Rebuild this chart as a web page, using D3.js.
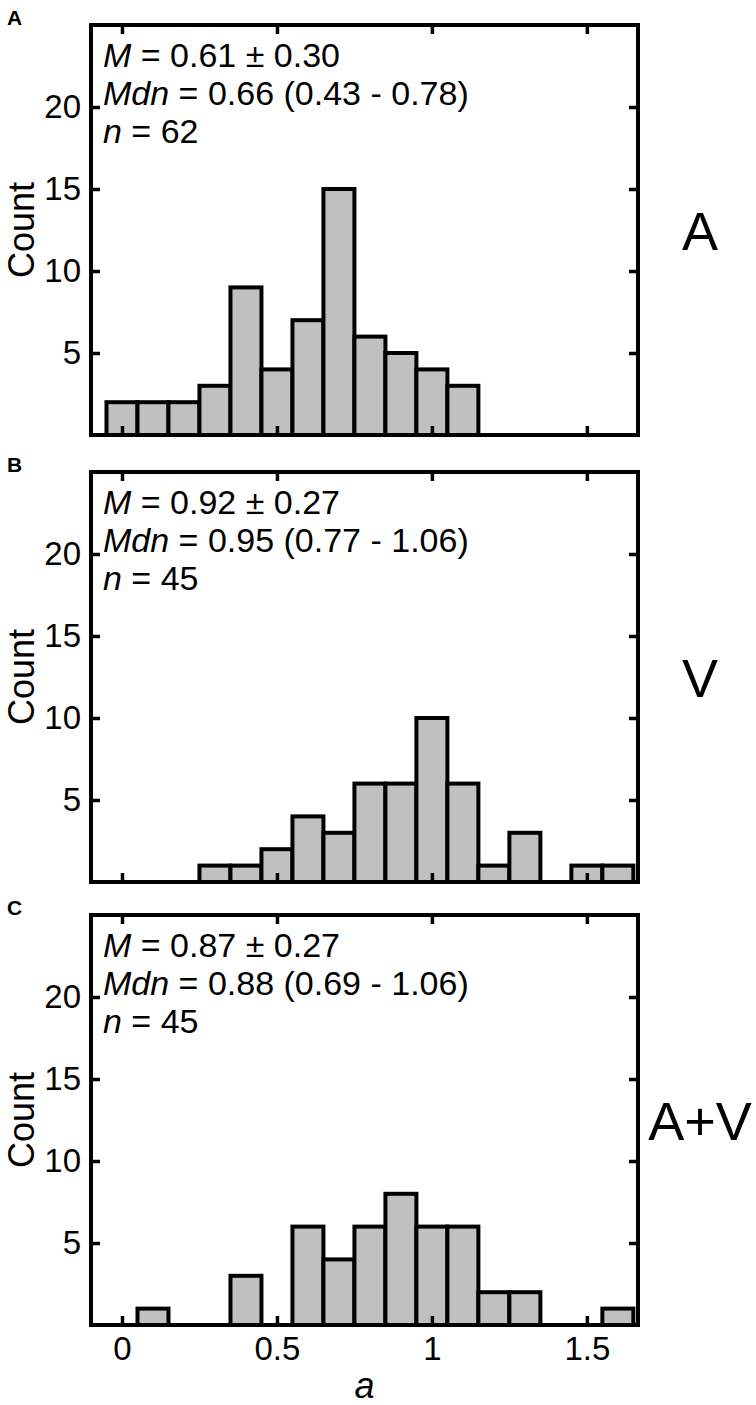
<!DOCTYPE html>
<html>
<head>
<meta charset="utf-8">
<script src="https://cdn.jsdelivr.net/npm/d3@7"></script>
<style>
  body { margin: 0; background: #fff; }
  svg { display: block; font-family: "Liberation Sans", Arial, sans-serif; }
</style>
</head>
<body>
<svg class="hist-svg" width="756" height="1405"></svg>
<script>
// bin centres (bin width 0.1)
const binCenters = [0, 0.1, 0.2, 0.3, 0.4, 0.5, 0.6, 0.7, 0.8, 0.9, 1.0, 1.1, 1.2, 1.3, 1.4, 1.5, 1.6]
const countsA = [2, 2, 2, 3, 9, 4, 7, 15, 6, 5, 4, 3, 0, 0, 0, 0, 0]
const countsV = [0, 0, 0, 1, 1, 2, 4, 3, 6, 6, 10, 6, 1, 3, 0, 1, 1]
const countsAV = [0, 1, 0, 0, 3, 0, 6, 4, 6, 8, 6, 6, 2, 2, 0, 0, 1]

const panelLetters = ['A', 'B', 'C']
const conditions = ['A', 'V', 'A+V']
const means = ['0.61 ± 0.30', '0.92 ± 0.27', '0.87 ± 0.27']
const medians = ['0.66 (0.43 - 0.78)', '0.95 (0.77 - 1.06)', '0.88 (0.69 - 1.06)']
const ns = ['62', '45', '45']

const xTicks = [0, 0.5, 1, 1.5]
const xTickLabels = ['0', '0.5', '1', '1.5']
const yTicks = [5, 10, 15, 20]

const allCounts = [countsA, countsV, countsAV]
const binWidth = 0.1

const left = 91
const right = 638
const panelTops = [25, 472, 915]
const panelHeight = 410

const svg = d3.select('.hist-svg')

const xScale = d3.scaleLinear().domain([-0.1, 1.665]).range([left, right])

allCounts.forEach((counts, i) => {
  const top = panelTops[i]
  const bottom = top + panelHeight
  const yScale = d3.scaleLinear().domain([0, 25]).range([bottom, top])
  const g = svg.append('g').attr('class', 'panel')

  const bins = binCenters.map((c, k) => ({ c, n: counts[k] })).filter(d => d.n > 0)

  g.selectAll('rect.bar')
    .data(bins)
    .enter()
    .append('rect')
    .attr('class', 'bar')
    .attr('x', d => xScale(d.c - binWidth / 2))
    .attr('width', d => xScale(d.c + binWidth / 2) - xScale(d.c - binWidth / 2))
    .attr('y', d => yScale(d.n))
    .attr('height', d => yScale(0) - yScale(d.n))
    .attr('fill', '#c0c0c0')
    .attr('stroke', '#000')
    .attr('stroke-width', 4)

  // ticks pointing inward on all four sides
  const bottomAxis = d3.axisBottom(xScale).tickValues(xTicks).tickSizeInner(-9).tickSizeOuter(0).tickPadding(12)
    .tickFormat((d, k) => i === 2 ? xTickLabels[k] : '')
  const topAxis = d3.axisTop(xScale).tickValues(xTicks).tickSizeInner(-9).tickSizeOuter(0).tickFormat('')
  const leftAxis = d3.axisLeft(yScale).tickValues(yTicks).tickSizeInner(-9).tickSizeOuter(0).tickPadding(10)
  const rightAxis = d3.axisRight(yScale).tickValues(yTicks).tickSizeInner(-9).tickSizeOuter(0).tickFormat('')

  g.append('g').attr('transform', `translate(0,${bottom})`).call(bottomAxis)
  g.append('g').attr('transform', `translate(0,${top})`).call(topAxis)
  g.append('g').attr('transform', `translate(${left},0)`).call(leftAxis)
  g.append('g').attr('transform', `translate(${right},0)`).call(rightAxis)

  g.selectAll('.domain').remove()
  g.selectAll('.tick line').attr('stroke', '#000').attr('stroke-width', 3.5)
  g.selectAll('.tick text')
    .attr('fill', '#000')
    .style('font-size', '33px')
    .style('font-family', '"Liberation Sans", Arial, sans-serif')

  g.append('rect')
    .attr('x', left)
    .attr('y', top)
    .attr('width', right - left)
    .attr('height', panelHeight)
    .attr('fill', 'none')
    .attr('stroke', '#000')
    .attr('stroke-width', 4)

  // stats text, one text per line
  const lines = [['M', ' = ' + means[i]], ['Mdn', ' = ' + medians[i]], ['n', ' = ' + ns[i]]]
  lines.forEach((ln, k) => {
    const t = g.append('text')
      .attr('x', left + 12)
      .attr('y', top + 42 + k * 38)
      .style('font-size', '34px')
    t.append('tspan').style('font-style', 'italic').text(ln[0])
    t.append('tspan').text(ln[1])
  })

  // panel letter
  svg.append('text')
    .attr('x', 7)
    .attr('y', top)
    .style('font-size', '21px')
    .style('font-weight', 'bold')
    .text(panelLetters[i])

  // y label
  svg.append('text')
    .attr('transform', `translate(34,${(top + bottom) / 2}) rotate(-90)`)
    .attr('text-anchor', 'middle')
    .style('font-size', '36px')
    .text('Count')

  // condition label
  svg.append('text')
    .attr('x', 700)
    .attr('y', (top + bottom) / 2 + 20)
    .attr('text-anchor', 'middle')
    .style('font-size', '54px')
    .text(conditions[i])
})

svg.append('text')
  .attr('x', (left + right) / 2)
  .attr('y', 1398)
  .attr('text-anchor', 'middle')
  .style('font-size', '36px')
  .style('font-style', 'italic')
  .text('a')
</script>
</body>
</html>
